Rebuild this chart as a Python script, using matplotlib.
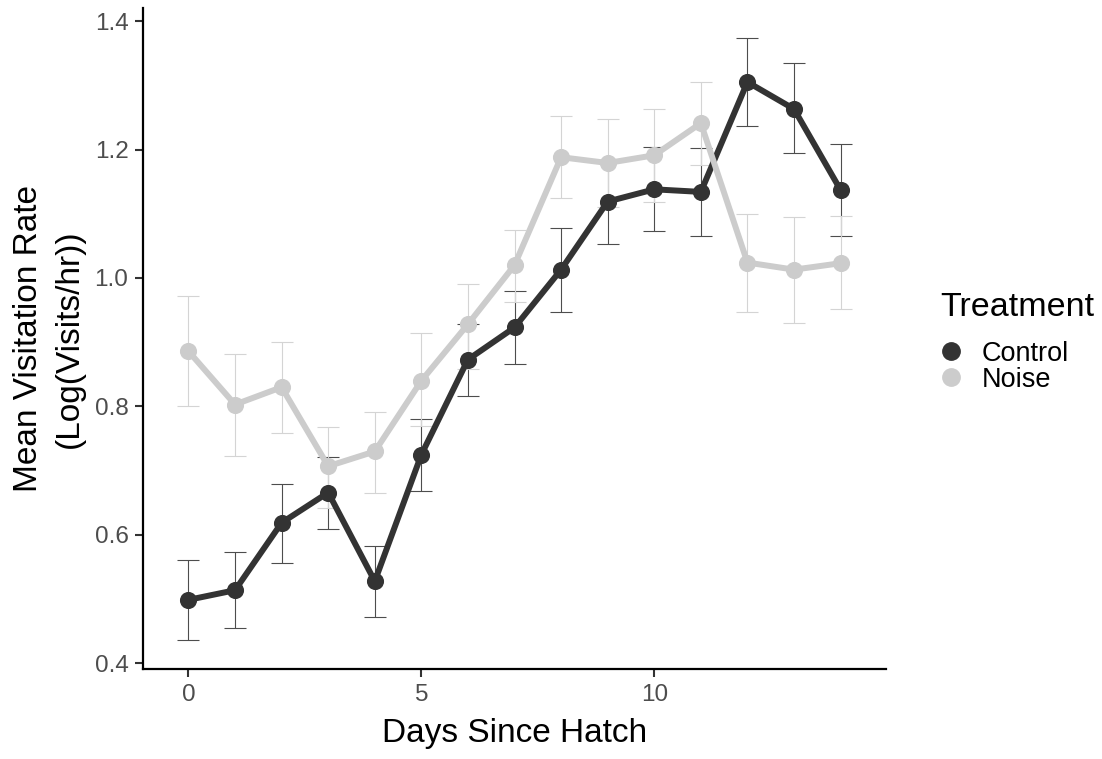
import matplotlib
matplotlib.use("Agg")
import matplotlib.pyplot as plt
from matplotlib.lines import Line2D

plt.rcParams["font.family"] = ["Liberation Sans", "DejaVu Sans"]

# ----------------------------
# Data: mean log visitation rate per day, with error bar bounds
# ----------------------------
days = list(range(15))

control_mean = [0.499, 0.514, 0.619, 0.666, 0.528, 0.725, 0.873, 0.923,
                1.013, 1.119, 1.138, 1.134, 1.305, 1.263, 1.137]
control_lo = [0.437, 0.455, 0.556, 0.610, 0.472, 0.669, 0.817, 0.866,
              0.947, 1.053, 1.073, 1.066, 1.236, 1.194, 1.066]
control_hi = [0.561, 0.573, 0.679, 0.722, 0.583, 0.781, 0.929, 0.979,
              1.078, 1.183, 1.204, 1.202, 1.374, 1.334, 1.208]

noise_mean = [0.886, 0.803, 0.830, 0.707, 0.730, 0.840, 0.928, 1.020,
              1.188, 1.179, 1.191, 1.241, 1.024, 1.013, 1.023]
noise_lo = [0.800, 0.723, 0.759, 0.642, 0.666, 0.769, 0.858, 0.962,
            1.124, 1.110, 1.119, 1.176, 0.947, 0.930, 0.951]
noise_hi = [0.972, 0.882, 0.900, 0.768, 0.792, 0.915, 0.990, 1.074,
            1.252, 1.247, 1.263, 1.305, 1.100, 1.095, 1.096]

treatments = ["Control", "Noise"]
colors = {"Control": "#333333", "Noise": "#cccccc"}
bar_colors = {"Control": "#4d4d4d", "Noise": "#d4d4d4"}

series = {
    "Control": (control_mean, control_lo, control_hi),
    "Noise": (noise_mean, noise_lo, noise_hi),
}

W, H = 1102, 759  # figure size in pixels


def fx(px):
    return px / W


def fy(py):
    return 1 - py / H


# ----------------------------
# Figure
# ----------------------------
fig = plt.figure(figsize=(W / 100, H / 100), dpi=100)
ax = fig.add_axes([0.1298, 0.1186, 0.6742, 0.8709])

for name in treatments:
    mean, lo, hi = series[name]
    yerr = [[m - l for m, l in zip(mean, lo)], [h - m for m, h in zip(mean, hi)]]
    ax.errorbar(days, mean, yerr=yerr, fmt="none", ecolor=bar_colors[name],
                elinewidth=0.8, capsize=8.0, capthick=0.8, zorder=1)

for name in treatments:
    mean = series[name][0]
    ax.plot(days, mean, color=colors[name], lw=4.3, zorder=2,
            solid_capstyle="butt")
    ax.plot(days, mean, "o", color=colors[name], ms=11.3, zorder=3)

ax.set_xlim(-0.975, 14.975)
ax.set_ylim(0.3914, 1.4203)
ax.set_xticks([0, 5, 10])
ax.set_yticks([0.4, 0.6, 0.8, 1.0, 1.2, 1.4])
ax.set_yticklabels(["0.4", "0.6", "0.8", "1.0", "1.2", "1.4"])

for side in ("top", "right"):
    ax.spines[side].set_visible(False)
for side in ("left", "bottom"):
    ax.spines[side].set_linewidth(1.6)
    ax.spines[side].set_color("black")

ax.tick_params(axis="both", length=5.5, width=1.5, color="#333333",
               labelcolor="#4d4d4d", labelsize=17.5, pad=5)

ax.set_xlabel("Days Since Hatch", fontsize=24, color="black", labelpad=9)
ax.set_ylabel("Mean Visitation Rate\n(Log(Visits/hr))", fontsize=24,
              color="black", labelpad=7, linespacing=1.4)

# legend, laid out by hand: title, then one point + label per treatment
fig.text(fx(940), fy(316), "Treatment", fontsize=24.5, color="black",
         ha="left", va="baseline")
for i, name in enumerate(treatments):
    yc = 351 + 26 * i
    fig.add_artist(Line2D([fx(951)], [fy(yc)], transform=fig.transFigure,
                          ls="none", marker="o", ms=12.5, color=colors[name]))
    fig.text(fx(982), fy(yc + 9.7), name, fontsize=19.5, color="black",
             ha="left", va="baseline")

fig.savefig("out.png", dpi=100)
